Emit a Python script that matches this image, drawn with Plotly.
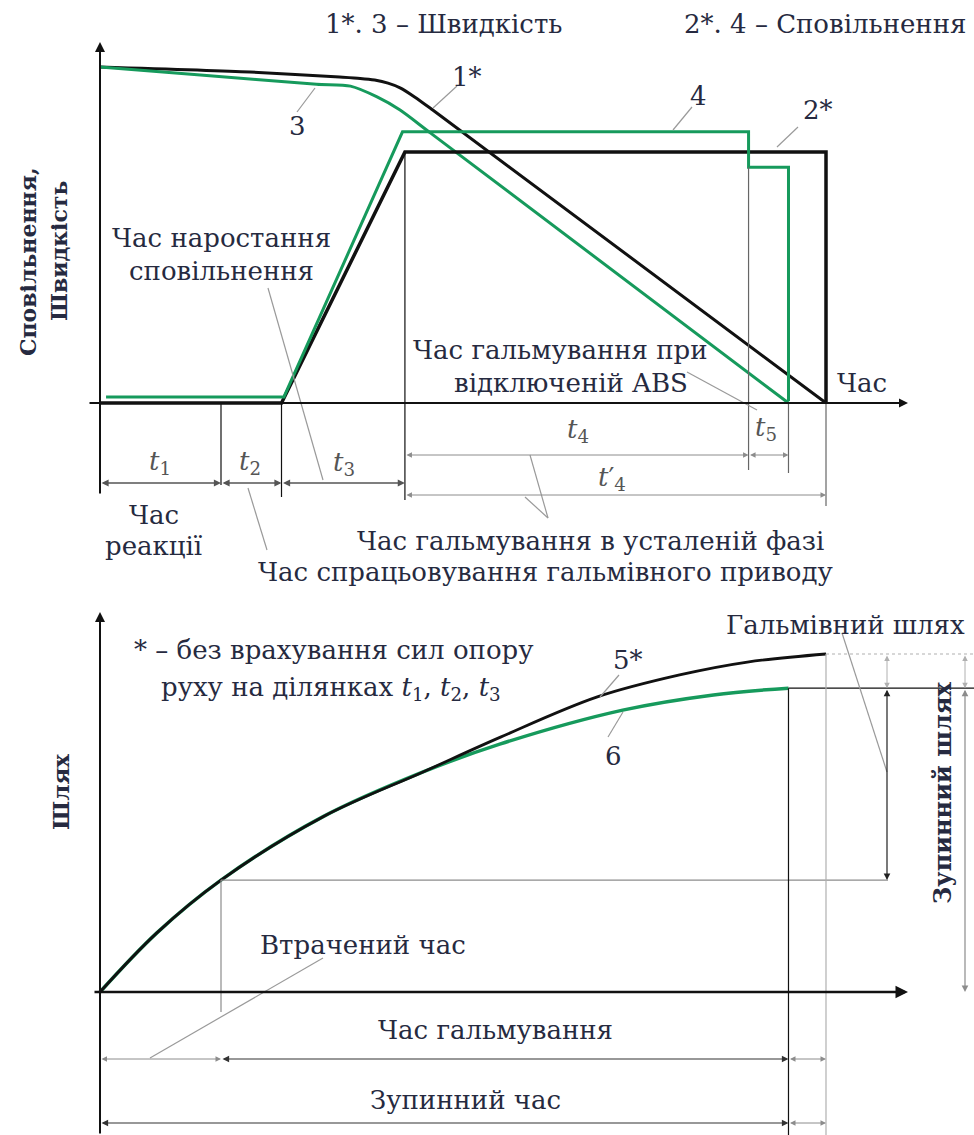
import plotly.graph_objects as go

W, H = 974, 1135

# ---- data -----------------------------------------------------------------
# phase boundaries on the time axis: 0, t1, t2, t3, end of t4, end of t5 (ABS), end of t4'
phase_t = [0.0, 1.0, 1.5, 2.52, 5.36, 5.69, 6.0]
T0, T1, T2, T3, T4, T5, T4P = phase_t

# speed: 1* (without resistance forces), 3 (with ABS)
speed1_t = [0, 1.24, 1.98, 2.15, 2.27, 2.38, 2.48, 2.60, 2.75, 6.0]
speed1_v = [100, 98.5, 97.0, 96.6, 96.1, 95.2, 93.8, 91.1, 87.2, 0]
speed3_t = [0, 0.83, 1.79, 2.07, 2.29, 2.48, 2.73, 5.69]
speed3_v = [100, 97.6, 94.9, 94.3, 91.1, 87.2, 80.4, 0]

# deceleration: 2* and 4
decel2_t = [0, 1.5, 2.52, 6.0, 6.0]
decel2_a = [0, 0, 74.7, 74.7, 0]
decel4_t = [0.05, 1.52, 2.50, 5.36, 5.36, 5.69, 5.69]
decel4_a = [1.8, 1.8, 80.7, 80.7, 70.2, 70.2, 0.6]

# distance: 5* and 6
dist5_t = [0, 0.47, 1.0, 1.84, 2.67, 3.31, 4.11, 4.79, 5.35, 6.0]
dist5_s = [0, 17.5, 33.1, 51.8, 65.1, 75.4, 87.3, 93.8, 97.6, 100]
dist6_t = [0, 0.47, 1.0, 1.84, 2.67, 3.31, 4.32, 5.07, 5.69]
dist6_s = [0, 17.5, 33.1, 51.8, 65.1, 73.4, 83.4, 87.9, 89.9]

S_T1 = dist5_s[dist5_t.index(T1)]
S_END5 = dist5_s[-1]
S_END6 = dist6_s[-1]

# ---- layout helpers (pixel <-> axis units) --------------------------------
X0, KX = 100, 121      # pixel column of t = 0, pixels per time unit
V0, KV = 403, 3.36     # pixel row of zero speed/deceleration, pixels per unit
S0, KS = 992, 3.38     # pixel row of zero distance, pixels per unit


def tv(p):
    return (p - X0) / KX


def vv(p):
    return (V0 - p) / KV


def sv(p):
    return (S0 - p) / KS


def px(p):
    return p / W


def py(p):
    return 1 - p / H


BLACK = "#111111"
GREEN = "#169a5c"
GRAY = "#8c8c8c"
TXT = "#262a40"
FONT = "DejaVu Serif"

fig = go.Figure()

line_kw = dict(mode="lines", hoverinfo="skip", showlegend=False)
fig.add_trace(go.Scatter(x=speed1_t, y=speed1_v, line=dict(color=BLACK, width=3, shape="spline", smoothing=0.7), **line_kw))
fig.add_trace(go.Scatter(x=speed3_t, y=speed3_v, line=dict(color=GREEN, width=3, shape="spline", smoothing=0.7), **line_kw))
fig.add_trace(go.Scatter(x=decel2_t, y=decel2_a, line=dict(color=BLACK, width=3.5), **line_kw))
fig.add_trace(go.Scatter(x=decel4_t, y=decel4_a, line=dict(color=GREEN, width=3), **line_kw))
fig.add_trace(go.Scatter(x=dist6_t, y=dist6_s, yaxis="y2", line=dict(color=GREEN, width=3.5, shape="spline", smoothing=1.0), **line_kw))
fig.add_trace(go.Scatter(x=dist5_t, y=dist5_s, yaxis="y2", line=dict(color=BLACK, width=2.8, shape="spline", smoothing=1.0), **line_kw))

shapes = []


def seg(x0, y0, x1, y1, color=GRAY, width=1, dash="solid", xref="paper", yref="paper"):
    shapes.append(dict(type="line", x0=x0, y0=y0, x1=x1, y1=y1, xref=xref, yref=yref,
                       line=dict(color=color, width=width, dash=dash), layer="above"))


def lead(p0, p1):
    seg(px(p0[0]), py(p0[1]), px(p1[0]), py(p1[1]), color="#9a9a9a", width=1.2)


# projection lines of the upper panel
seg(T1, py(403), T1, py(485), BLACK, 1.2, xref="x")
seg(T2, py(403), T2, py(497), BLACK, 1.2, xref="x")
seg(T3, decel2_a[2], T3, vv(500), BLACK, 1.2, xref="x", yref="y")
seg(T4, decel4_a[4], T4, vv(470), "#666666", 1.2, xref="x", yref="y")
seg(T5, 0, T5, vv(473), "#666666", 1.2, xref="x", yref="y")
seg(T4P, 0, T4P, vv(506), "#666666", 1.2, xref="x", yref="y")

# projection lines of the lower panel
seg(T1, S_T1, T1, sv(1012), GRAY, 1.2, xref="x", yref="y2")
seg(T1, S_T1, tv(888), S_T1, GRAY, 1.2, xref="x", yref="y2")
seg(T5, S_END6, T5, sv(1135), BLACK, 1.2, xref="x", yref="y2")
seg(T5, S_END6, tv(974), S_END6, BLACK, 1.2, xref="x", yref="y2")
seg(T4P, S_END5, T4P, sv(1135), "#b0b0b0", 1.2, xref="x", yref="y2")
seg(T4P, S_END5, tv(974), S_END5, "#b0b0b0", 1.2, dash="dot", xref="x", yref="y2")

# leader lines
lead((433, 108), (457, 86))      # 1*
lead((297, 112), (315, 88))      # 3
lead((673, 130), (692, 107))     # 4
lead((777, 147), (798, 127))     # 2*
lead((268, 288), (323, 480))     # rise time
lead((687, 372), (757, 410))     # ABS off
lead((248, 488), (267, 550))     # actuation time
lead((530, 455), (548, 518))     # steady phase
lead((525, 497), (548, 518))
lead((600, 697), (619, 675))     # 5*
lead((608, 737), (623, 712))     # 6
lead((842, 633), (887, 772))     # braking distance
lead((323, 958), (150, 1058))    # lost time

annotations = []


def arrow_h(t0, t1, row, color=GRAY, width=1):
    # horizontal dimension line with heads at both ends
    annotations.append(dict(x=t1, y=py(row), xref="x", yref="paper", ax=t0, ay=0,
                            axref="x", ayref="pixel", showarrow=True, arrowside="end+start",
                            arrowhead=2, arrowsize=1.1, arrowwidth=width, arrowcolor=color, text=""))


def arrow_v(col, s0, s1, color=GRAY, width=1):
    annotations.append(dict(x=px(col), y=s1, xref="paper", yref="y2", ax=0, ay=s0,
                            axref="pixel", ayref="y2", showarrow=True, arrowside="end+start",
                            arrowhead=2, arrowsize=1.1, arrowwidth=width, arrowcolor=color, text=""))


def axis_arrow(x, y, ax, ay, width):
    annotations.append(dict(x=px(x), y=py(y), xref="paper", yref="paper", ax=ax, ay=ay,
                            axref="pixel", ayref="pixel", showarrow=True, arrowhead=2,
                            arrowsize=1.0, arrowwidth=width, arrowcolor=BLACK, text=""))


def label(x, y, text, size=26, angle=0, color=TXT):
    annotations.append(dict(x=px(x), y=py(y), xref="paper", yref="paper", text=text,
                            showarrow=False, textangle=angle, xanchor="center", yanchor="middle",
                            font=dict(family=FONT, size=size, color=color)))


# axes
axis_arrow(100, 42, 0, 453, 2)
axis_arrow(908, 403, -820, 0, 1.8)
axis_arrow(100, 612, 0, 523, 2)
axis_arrow(908, 992, -815, 0, 2.5)

# dimension lines, upper panel
arrow_h(T0, T1, 483, "#555555", 1.3)
arrow_h(T1, T2, 483, "#555555", 1.3)
arrow_h(T2, T3, 483, "#555555", 1.3)
arrow_h(T3, T4, 455)
arrow_h(T4, T5, 455)
arrow_h(T3, T4P, 495)

# dimension lines, lower panel
arrow_h(T0, T1, 1059)
arrow_h(T1, T5, 1059, "#333333", 1.2)
arrow_h(T5, T4P, 1059)
arrow_h(T0, T5, 1123, "#333333", 1.2)
arrow_h(T5, T4P, 1123)
arrow_v(887, S_END6, S_T1, "#222222", 1.2)
arrow_v(887, S_END5, S_END6, "#b0b0b0", 1)
arrow_v(965, S_END6, 0, GRAY, 1.2)
arrow_v(965, S_END5, S_END6, "#b0b0b0", 1)

# texts, upper panel
label(443, 24, "1*. 3 – Швидкість")
label(825, 24, "2*. 4 – Сповільнення")
label(467, 77, "1*")
label(297, 126, "3")
label(698, 96, "4")
label(818, 110, "2*")
label(28, 262, "<b>Сповільнення,</b>", 22, angle=-90)
label(59, 251, "<b>Швидкість</b>", 22, angle=-90)
label(221, 238, "Час наростання")
label(221, 271, "сповільнення")
label(560, 350, "Час гальмування при")
label(571, 383, "відключеній ABS")
label(862, 383, "Час")
label(160, 462, "<i>t</i><sub>1</sub>", 26, color="#555555")
label(250, 462, "<i>t</i><sub>2</sub>", 26, color="#555555")
label(344, 463, "<i>t</i><sub>3</sub>", 26, color="#555555")
label(578, 430, "<i>t</i><sub>4</sub>", 26, color="#555555")
label(766, 428, "<i>t</i><sub>5</sub>", 26, color="#555555")
label(612, 478, "<i>t</i>′<sub>4</sub>", 26, color="#555555")
label(154, 515, "Час")
label(154, 546, "реакції")
label(590, 541, "Час гальмування в усталеній фазі")
label(545, 572, "Час спрацьовування гальмівного приводу")

# texts, lower panel
label(333, 650, "* – без врахування сил опору")
label(331, 688, "руху на ділянках <i>t</i><sub>1</sub>, <i>t</i><sub>2</sub>, <i>t</i><sub>3</sub>")
label(845, 625, "Гальмівний шлях")
label(628, 660, "5*")
label(613, 756, "6")
label(60, 792, "<b>Шлях</b>", 23, angle=-90)
label(942, 793, "<b>Зупинний шлях</b>", 24, angle=-90)
label(363, 945, "Втрачений час")
label(495, 1030, "Час гальмування")
label(465, 1100, "Зупинний час")

fig.update_layout(
    width=W, height=H,
    margin=dict(l=0, r=0, t=0, b=0),
    paper_bgcolor="white", plot_bgcolor="white",
    xaxis=dict(range=[tv(0), tv(W)], domain=[0, 1], visible=False, fixedrange=True),
    yaxis=dict(range=[vv(H), vv(0)], domain=[0, 1], visible=False, fixedrange=True),
    yaxis2=dict(range=[sv(H), sv(0)], domain=[0, 1], overlaying="y", visible=False, fixedrange=True),
    shapes=shapes,
    annotations=annotations,
    showlegend=False,
)

fig.write_html("out.html")
